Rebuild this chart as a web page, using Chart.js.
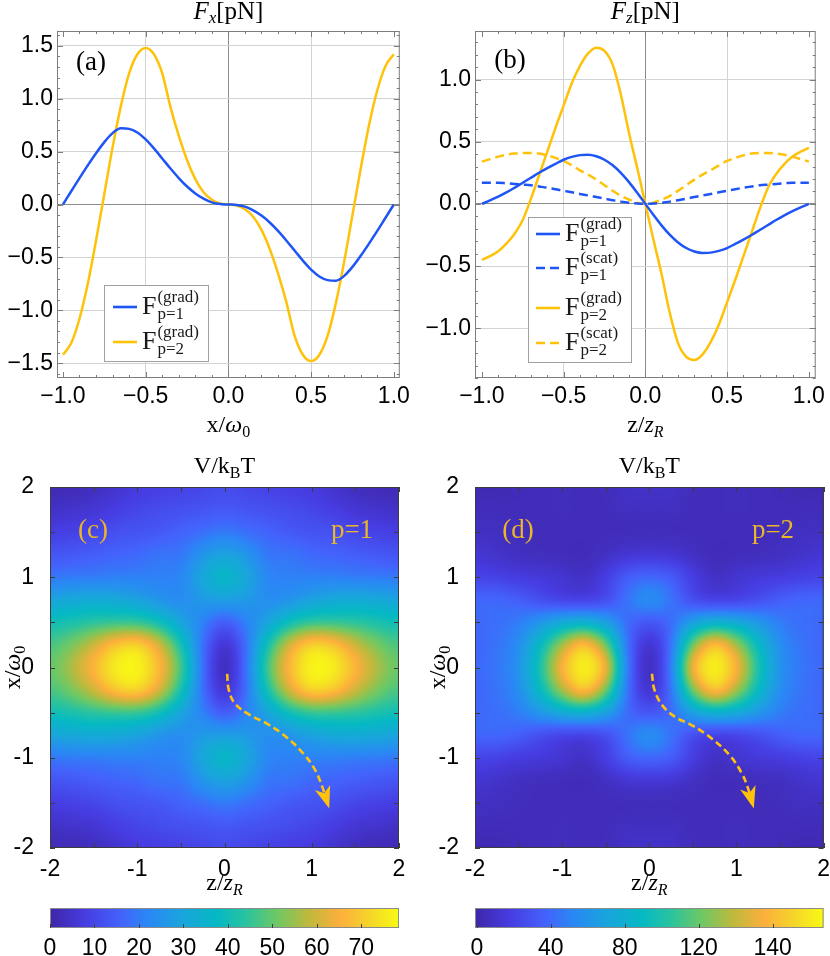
<!DOCTYPE html>
<html>
<head>
<meta charset="utf-8">
<title>Optical forces and trapping potential</title>
<script src="https://cdn.jsdelivr.net/npm/chart.js@4.4.1/dist/chart.umd.min.js"></script>
<style>
  html, body { margin: 0; padding: 0; background: #fff; }
  #fig { position: relative; width: 830px; height: 956px; overflow: hidden; }
  #fig canvas { position: absolute; }
</style>
</head>
<body>
<div id="fig">
  <canvas id="panelA" width="415" height="440" style="left:0;top:0"></canvas>
  <canvas id="panelB" width="415" height="440" style="left:415px;top:0"></canvas>
  <canvas id="panelC" width="415" height="516" style="left:0;top:440px"></canvas>
  <canvas id="panelD" width="415" height="516" style="left:415px;top:440px"></canvas>
</div>
<script>
// sample positions (x/w0 for panel a, z/zR for panel b)
const xPos = [-1,-0.95,-0.9,-0.85,-0.8,-0.75,-0.7,-0.65,-0.6,-0.55,-0.5,-0.45,-0.4,-0.35,-0.3,-0.25,-0.2,-0.15,-0.1,-0.05,0,
  0.05,0.1,0.15,0.2,0.25,0.3,0.35,0.4,0.45,0.5,0.55,0.6,0.65,0.7,0.75,0.8,0.85,0.9,0.95,1];
const zPos = [-1,-0.95,-0.9,-0.85,-0.8,-0.75,-0.7,-0.65,-0.6,-0.55,-0.5,-0.45,-0.4,-0.35,-0.3,-0.25,-0.2,-0.15,-0.1,-0.05,0,
  0.05,0.1,0.15,0.2,0.25,0.3,0.35,0.4,0.45,0.5,0.55,0.6,0.65,0.7,0.75,0.8,0.85,0.9,0.95,1];

// (a) Fx [pN]
const fxGradP1 = [0,0.125,0.25,0.37,0.485,0.59,0.675,0.72,0.715,0.68,0.615,0.53,0.435,0.34,0.25,0.17,0.105,0.055,0.02,0.004,0,
  -0.004,-0.02,-0.055,-0.105,-0.17,-0.25,-0.34,-0.435,-0.53,-0.615,-0.68,-0.715,-0.72,-0.675,-0.59,-0.485,-0.37,-0.25,-0.125,0];
const fxGradP2 = [-1.42,-1.31,-1.08,-0.75,-0.34,0.1,0.54,0.93,1.24,1.42,1.48,1.42,1.24,0.92,0.65,0.42,0.24,0.115,0.045,0.01,0,
  -0.01,-0.045,-0.115,-0.24,-0.42,-0.65,-0.92,-1.24,-1.42,-1.48,-1.42,-1.24,-0.93,-0.54,-0.1,0.34,0.75,1.08,1.31,1.42];

// (b) Fz [pN]
const fzGradP1 = [0,0.028,0.058,0.092,0.13,0.17,0.21,0.25,0.287,0.322,0.355,0.378,0.392,0.395,0.383,0.355,0.31,0.25,0.175,0.09,0,
  -0.09,-0.175,-0.25,-0.31,-0.355,-0.383,-0.395,-0.392,-0.378,-0.355,-0.322,-0.287,-0.25,-0.21,-0.17,-0.13,-0.092,-0.058,-0.028,0];
const fzScatP1 = [0.17,0.17,0.17,0.165,0.16,0.155,0.15,0.14,0.13,0.118,0.105,0.093,0.08,0.068,0.055,0.042,0.03,0.018,0.009,0.003,0,
  0.003,0.009,0.018,0.03,0.042,0.055,0.068,0.08,0.093,0.105,0.118,0.13,0.14,0.15,0.155,0.16,0.165,0.17,0.17,0.17];
const fzGradP2 = [-0.45,-0.42,-0.38,-0.32,-0.24,-0.13,0.04,0.23,0.42,0.61,0.79,0.97,1.11,1.21,1.255,1.23,1.12,0.88,0.57,0.29,0,
  -0.29,-0.57,-0.88,-1.12,-1.23,-1.255,-1.21,-1.11,-0.97,-0.79,-0.61,-0.42,-0.23,-0.04,0.13,0.24,0.32,0.38,0.42,0.45];
const fzScatP2 = [0.34,0.36,0.38,0.395,0.405,0.41,0.41,0.405,0.39,0.37,0.345,0.31,0.27,0.235,0.195,0.15,0.105,0.065,0.035,0.01,0,
  0.01,0.035,0.065,0.105,0.15,0.195,0.235,0.27,0.31,0.345,0.37,0.39,0.405,0.41,0.41,0.405,0.395,0.38,0.36,0.34];

// tick values
const fxTicksX = [-1,-0.5,0,0.5,1];
const fxTicksY = [-1.5,-1,-0.5,0,0.5,1,1.5];
const fzTicksY = [-1,-0.5,0,0.5,1];
const mapTicks = [-2,-1,0,1,2];
const cbTicksP1 = [0,10,20,30,40,50,60,70];
const cbTicksP2 = [0,40,80,120,160];
const cbLabelsP2 = ['0','40','80','120','140'];

// (c),(d) V/kBT, one quadrant (rows: x/w0 = 0..2, cols: z/zR = 0..2), mirrored in z and x
const zHalf = [0,0.25,0.5,0.75,1,1.25,1.5,1.75,2];
const xHalf = [0,0.25,0.5,0.75,1,1.25,1.5,1.75,2];
const potP1 = [
  [1,18,48,68,80,77,67,57,50],
  [4,18,42,62,73,70,60,52,47],
  [14,21,30,40,45,45,44,42,40],
  [28,27,23,25,29,31,32,31,30],
  [38,31,22,21,21,21,20,20,19],
  [30,26,19,19,17,16,15,14,13],
  [20,18,16,14,13,12,10,9,8],
  [14,13,12,11,10,8,6,5,4],
  [11,10,9,8,7,5,3,2,2]
];
const potP2 = [
  [3,45,160,190,160,100,58,45,40],
  [8,42,125,170,135,90,55,44,38],
  [30,40,68,80,75,62,48,42,40],
  [60,45,25,18,20,26,35,40,40],
  [40,35,18,8,12,15,17,20,22],
  [14,12,8,4,5,6,7,10,13],
  [5,5,5,5,5,5,6,7,8],
  [7,7,5,5,6,5,5,5,5],
  [9,9,6,5,6,5,4,3,3]
];

// dashed arrows drawn on the maps
const arrowZ1 = [0.03,0.05,0.12,0.28,0.5,0.72,0.9,1.03,1.12,1.19];
const arrowX1 = [-0.07,-0.25,-0.4,-0.52,-0.63,-0.78,-0.95,-1.12,-1.32,-1.53];
const arrowZ2 = [0.03,0.06,0.15,0.3,0.49,0.72,0.92,1.06,1.14,1.19];
const arrowX2 = [-0.07,-0.25,-0.42,-0.55,-0.64,-0.79,-0.97,-1.17,-1.36,-1.53];

const BLUE = '#1f55f5';
const GOLD = '#ffc20a';
const LABEL_GOLD = '#ebb628';
const SERIF = '"Liberation Serif", "Times New Roman", serif';
const SANS = '"Liberation Sans", Arial, sans-serif';
const tickFont = { family: SANS, size: 23 };

// parula-like colour map
const parula = [
  [0.00, 62, 38, 168], [0.10, 70, 60, 225], [0.20, 68, 97, 252], [0.28, 42, 135, 245],
  [0.38, 25, 165, 220], [0.48, 5, 185, 195], [0.56, 40, 195, 160], [0.65, 110, 200, 100],
  [0.74, 190, 185, 60], [0.83, 252, 175, 60], [0.92, 245, 215, 40], [1.00, 248, 250, 20]
];

function cmap(t) {
  t = Math.max(0, Math.min(1, t));
  for (let i = 1; i < parula.length; i++) {
    if (t <= parula[i][0]) {
      const a = parula[i - 1], b = parula[i], f = (t - a[0]) / (b[0] - a[0]);
      return [1, 2, 3].map(k => Math.round(a[k] + f * (b[k] - a[k])));
    }
  }
  return parula[parula.length - 1].slice(1);
}

const pts = (xs, ys) => xs.map((x, i) => ({ x, y: ys[i] }));
const setTicks = vals => s => { s.ticks = vals.map(v => ({ value: v })); };
const minusFmt = v => (v < 0 ? '\u2212' : '') + Math.abs(v).toFixed(1);

// text with sub/superscript pieces: [text, font, dy]
function rich(ctx, parts, x, y, center) {
  ctx.textAlign = 'left';
  ctx.textBaseline = 'alphabetic';
  let w = 0;
  parts.forEach(([t, f]) => { ctx.font = f; w += ctx.measureText(t).width; });
  let cx = center ? x - w / 2 : x;
  parts.forEach(([t, f, dy]) => { ctx.font = f; ctx.fillText(t, cx, y + (dy || 0)); cx += ctx.measureText(t).width; });
}

// frame with inward tick marks on all four sides
function framePlugin(color, marks) {
  return {
    id: 'frame',
    afterDatasetsDraw(chart) {
      const { ctx, chartArea: a, scales: { x, y } } = chart;
      ctx.save();
      ctx.strokeStyle = color;
      ctx.lineWidth = 1;
      ctx.setLineDash([]);
      ctx.beginPath();
      marks.forEach(([step, len]) => {
        for (let v = Math.ceil(x.min / step - 1e-6) * step; v <= x.max + 1e-6; v += step) {
          const p = Math.round(x.getPixelForValue(v)) + 0.5;
          ctx.moveTo(p, a.bottom); ctx.lineTo(p, a.bottom - len);
          ctx.moveTo(p, a.top); ctx.lineTo(p, a.top + len);
        }
        for (let v = Math.ceil(y.min / step - 1e-6) * step; v <= y.max + 1e-6; v += step) {
          const p = Math.round(y.getPixelForValue(v)) + 0.5;
          ctx.moveTo(a.left, p); ctx.lineTo(a.left + len, p);
          ctx.moveTo(a.right, p); ctx.lineTo(a.right - len, p);
        }
      });
      ctx.stroke();
      ctx.strokeRect(a.left + 0.5, a.top + 0.5, a.width - 1, a.height - 1);
      ctx.restore();
    }
  };
}

function drawLegend(ctx, chart, box, lineX, rows) {
  const [bx, by, bw, bh] = box;
  ctx.fillStyle = '#fff';
  ctx.fillRect(bx, by, bw, bh);
  ctx.strokeStyle = '#a0a0a0';
  ctx.lineWidth = 1;
  ctx.strokeRect(bx + 0.5, by + 0.5, bw, bh);
  chart.data.datasets.forEach((ds, i) => {
    const ly = rows[i];
    ctx.strokeStyle = ds.borderColor;
    ctx.lineWidth = 2.6;
    ctx.setLineDash(ds.borderDash);
    ctx.beginPath(); ctx.moveTo(lineX, ly); ctx.lineTo(lineX + 24, ly); ctx.stroke();
    ctx.setLineDash([]);
    ctx.fillStyle = '#1a1a1a';
    ctx.textAlign = 'left';
    ctx.font = '26px ' + SERIF;
    const fx = lineX + 29;
    ctx.fillText('F', fx, ly + 7);
    const fw = ctx.measureText('F').width + 1;
    ctx.font = '17px ' + SERIF;
    ctx.fillText(ds.sup, fx + fw, ly - 5);
    ctx.fillText(ds.sub, fx + fw, ly + 12);
  });
}

function forceChart(id, xs, sets, o) {
  const gridColor = c => c.tick.value === 0 ? '#8c8c8c' : '#d3d3d3';
  return new Chart(document.getElementById(id), {
    type: 'line',
    data: {
      datasets: sets.map(s => ({
        label: s.label, data: pts(xs, s.y), borderColor: s.color, borderWidth: 2.5,
        borderDash: s.dash || [], pointRadius: 0, cubicInterpolationMode: 'monotone', fill: false,
        sup: s.sup, sub: s.sub
      }))
    },
    options: {
      responsive: false, animation: false, events: [],
      layout: { padding: { left: 0, right: o.padR, top: 31, bottom: 0 } },
      plugins: { legend: { display: false }, tooltip: { enabled: false } },
      scales: {
        x: {
          type: 'linear', min: o.xMin, max: o.xMax,
          afterBuildTicks: setTicks(fxTicksX), afterFit: s => { s.height = 62; },
          ticks: { font: tickFont, color: '#000', padding: 5, autoSkip: false, maxRotation: 0, callback: minusFmt },
          grid: { drawTicks: false, lineWidth: 1, color: c => Math.abs(c.tick.value) === 1 ? 'rgba(0,0,0,0)' : gridColor(c) },
          border: { display: false }
        },
        y: {
          min: o.yMin, max: o.yMax,
          afterBuildTicks: setTicks(o.yTicks), afterFit: s => { s.width = o.yW; },
          ticks: { font: tickFont, color: '#000', padding: 4, autoSkip: false, callback: minusFmt },
          grid: { drawTicks: false, lineWidth: 1, color: gridColor },
          border: { display: false }
        }
      }
    },
    plugins: [framePlugin('#7d7d7d', [[0.1, 3], [0.5, 6]]), { id: 'deco', afterDraw: o.deco }]
  });
}

// grey-level image of the quadrant grid, mirrored to the full -2..2 square
function grayGrid(grid, vMin, vMax) {
  const n = zHalf.length, N = 2 * n - 1;
  const c = document.createElement('canvas');
  c.width = N; c.height = N;
  const g = c.getContext('2d');
  const im = g.createImageData(N, N);
  for (let r = 0; r < N; r++) {          // r = 0 -> top (x/w0 = +2)
    const xi = Math.abs(n - 1 - r);
    for (let k = 0; k < N; k++) {        // k = 0 -> left (z/zR = -2)
      const zi = Math.abs(k - (n - 1));
      const t = Math.max(0, Math.min(1, (grid[xi][zi] - vMin) / (vMax - vMin)));
      const p = 4 * (r * N + k);
      im.data[p] = im.data[p + 1] = im.data[p + 2] = Math.round(255 * t);
      im.data[p + 3] = 255;
    }
  }
  g.putImageData(im, 0, 0);
  return c;
}

// smooth the grey image on the chart's own scales, then colour it
function renderHeat(grid, vMin, vMax, chart) {
  const { chartArea: a, scales: { x, y } } = chart;
  const small = grayGrid(grid, vMin, vMax);
  const pad = 24, W = Math.round(a.width), H = Math.round(a.height);
  const big = document.createElement('canvas');
  big.width = W + 2 * pad; big.height = H + 2 * pad;
  const g = big.getContext('2d');
  g.imageSmoothingEnabled = true;
  g.imageSmoothingQuality = 'high';
  const hz = (zHalf[1] - zHalf[0]) / 2, hx = (xHalf[1] - xHalf[0]) / 2;
  const zl = zHalf[zHalf.length - 1] + hz, xl = xHalf[xHalf.length - 1] + hx;
  const x0 = x.getPixelForValue(-zl) - a.left + pad, x1 = x.getPixelForValue(zl) - a.left + pad;
  const y0 = y.getPixelForValue(xl) - a.top + pad, y1 = y.getPixelForValue(-xl) - a.top + pad;
  g.drawImage(small, 0, 0, big.width, big.height);
  g.drawImage(small, x0, y0, x1 - x0, y1 - y0);
  const out = document.createElement('canvas');
  out.width = W; out.height = H;
  const o = out.getContext('2d');
  o.filter = 'blur(3px)';
  o.drawImage(big, -pad, -pad);
  o.filter = 'none';
  const im = o.getImageData(0, 0, W, H);
  const lut = [];
  for (let i = 0; i < 256; i++) lut.push(cmap(i / 255));
  for (let p = 0; p < im.data.length; p += 4) {
    const c = lut[im.data[p]];
    im.data[p] = c[0]; im.data[p + 1] = c[1]; im.data[p + 2] = c[2]; im.data[p + 3] = 255;
  }
  o.putImageData(im, 0, 0);
  return out;
}

function heatPlugin(grid, vMin, vMax) {
  let img = null;
  return {
    id: 'heat',
    beforeDatasetsDraw(chart) {
      const { ctx, chartArea: a } = chart;
      if (!img) img = renderHeat(grid, vMin, vMax, chart);
      ctx.drawImage(img, a.left, a.top, a.width, a.height);
    }
  };
}

const arrowHead = {
  id: 'arrowHead',
  afterDatasetsDraw(chart) {
    const el = chart.getDatasetMeta(0).data;
    const tip = el[el.length - 1], prev = el[el.length - 2];
    const ang = Math.atan2(tip.y - prev.y, tip.x - prev.x);
    const { ctx } = chart;
    ctx.save();
    ctx.translate(tip.x, tip.y);
    ctx.rotate(ang);
    ctx.fillStyle = GOLD;
    ctx.beginPath();
    ctx.moveTo(3, 0); ctx.lineTo(-19, -8); ctx.lineTo(-13, 0); ctx.lineTo(-19, 8);
    ctx.closePath(); ctx.fill();
    ctx.restore();
  }
};

const colorbar = {
  id: 'colorbar',
  afterDraw(chart) {
    const { ctx } = chart, s = chart.scales.cb;
    const top = s.top + 8, h = 20;
    const g = ctx.createLinearGradient(s.left, 0, s.right, 0);
    parula.forEach(p => g.addColorStop(p[0], `rgb(${p[1]},${p[2]},${p[3]})`));
    ctx.save();
    ctx.fillStyle = g;
    ctx.fillRect(s.left, top, s.right - s.left, h);
    ctx.strokeStyle = '#8a8a8a';
    ctx.lineWidth = 1;
    ctx.strokeRect(s.left + 0.5, top + 0.5, s.right - s.left - 1, h - 1);
    ctx.strokeStyle = '#404040';
    ctx.beginPath();
    s.ticks.forEach(t => {
      const p = Math.round(s.getPixelForValue(t.value)) + 0.5;
      ctx.moveTo(p, top + h); ctx.lineTo(p, top + h - 4);
    });
    ctx.stroke();
    ctx.restore();
  }
};

function potentialChart(id, grid, o) {
  return new Chart(document.getElementById(id), {
    type: 'scatter',
    data: {
      datasets: [{
        label: 'path', data: pts(o.arrowZ, o.arrowX), showLine: true, borderColor: GOLD,
        borderWidth: 2.6, borderDash: [7, 4], pointRadius: 0, tension: 0.4
      }]
    },
    options: {
      responsive: false, animation: false, events: [],
      layout: { padding: { left: 0, right: o.padR, top: 47, bottom: 0 } },
      plugins: { legend: { display: false }, tooltip: { enabled: false } },
      scales: {
        x: {
          type: 'linear', min: -2, max: 2, weight: 0,
          afterBuildTicks: setTicks(mapTicks), afterFit: s => { s.height = 52; },
          ticks: { font: tickFont, color: '#000', padding: 0, autoSkip: false, maxRotation: 0, callback: v => String(v) },
          grid: { display: false }, border: { display: false }
        },
        cb: {
          type: 'linear', axis: 'x', position: 'bottom', weight: 1, min: o.vMin, max: o.vMax,
          afterBuildTicks: setTicks(o.cbTicks), afterFit: s => { s.height = 56; },
          ticks: { font: tickFont, color: '#000', padding: 27, autoSkip: false, maxRotation: 0, callback: (v, i) => o.cbLabels[i] },
          grid: { display: false }, border: { display: false }
        },
        y: {
          min: -2, max: 2,
          afterBuildTicks: setTicks(mapTicks), afterFit: s => { s.width = o.yW; },
          ticks: { font: tickFont, color: '#000', padding: 8, autoSkip: false, callback: v => String(v) },
          grid: { display: false }, border: { display: false }
        }
      }
    },
    plugins: [heatPlugin(grid, o.vMin, o.vMax), framePlugin('#3c3c3c', [[0.5, 5]]), arrowHead, colorbar, {
      id: 'deco',
      afterDraw(chart) {
        const { ctx, chartArea: a } = chart;
        const cx = (a.left + a.right) / 2, cy = (a.top + a.bottom) / 2;
        ctx.save();
        ctx.fillStyle = '#000';
        rich(ctx, [['V/k', '24px ' + SERIF], ['B', '16px ' + SERIF, 5], ['T', '24px ' + SERIF]], cx, 33, true);
        rich(ctx, [['z/', '24px ' + SERIF], ['z', 'italic 24px ' + SERIF], ['R', 'italic 16px ' + SERIF, 5]], cx, 450, true);
        ctx.save();
        ctx.translate(o.yTitleX, cy);
        ctx.rotate(-Math.PI / 2);
        rich(ctx, [['x/', '24px ' + SERIF], ['\u03c9', 'italic 24px ' + SERIF], ['0', '16px ' + SERIF, 5]], 0, 7, true);
        ctx.restore();
        ctx.fillStyle = LABEL_GOLD;
        ctx.font = '27px ' + SERIF;
        ctx.textAlign = 'center';
        ctx.fillText(o.tag, o.tagX, 98);
        ctx.fillText(o.pLabel, o.pX, 98);
        ctx.restore();
      }
    }]
  });
}

// (a)
forceChart('panelA', xPos, [
  { label: 'F(grad) p=1', y: fxGradP1, color: BLUE, sup: '(grad)', sub: 'p=1' },
  { label: 'F(grad) p=2', y: fxGradP2, color: GOLD, sup: '(grad)', sub: 'p=2' }
], {
  xMin: -1.036, xMax: 1.036, yMin: -1.64, yMax: 1.64, yTicks: fxTicksY, yW: 57, padR: 11,
  deco(chart) {
    const { ctx, chartArea: a } = chart;
    const cx = (a.left + a.right) / 2;
    ctx.save();
    ctx.fillStyle = '#000';
    rich(ctx, [['F', 'italic 25px ' + SERIF], ['x', 'italic 17px ' + SERIF, 4], ['[pN]', '25px ' + SERIF]], cx, 19, true);
    rich(ctx, [['x/', '24px ' + SERIF], ['\u03c9', 'italic 24px ' + SERIF], ['0', '16px ' + SERIF, 5]], cx, 432, true);
    ctx.font = '27px ' + SERIF;
    ctx.textAlign = 'center';
    ctx.fillText('(a)', 91, 70);
    drawLegend(ctx, chart, [104, 285, 104, 76], 113, [307, 342]);
    ctx.restore();
  }
});

// (b)
forceChart('panelB', zPos, [
  { label: 'F(grad) p=1', y: fzGradP1, color: BLUE, sup: '(grad)', sub: 'p=1' },
  { label: 'F(scat) p=1', y: fzScatP1, color: BLUE, dash: [9, 5], sup: '(scat)', sub: 'p=1' },
  { label: 'F(grad) p=2', y: fzGradP2, color: GOLD, sup: '(grad)', sub: 'p=2' },
  { label: 'F(scat) p=2', y: fzScatP2, color: GOLD, dash: [9, 5], sup: '(scat)', sub: 'p=2' }
], {
  xMin: -1.042, xMax: 1.042, yMin: -1.4, yMax: 1.39, yTicks: fzTicksY, yW: 60, padR: 8,
  deco(chart) {
    const { ctx, chartArea: a } = chart;
    const cx = (a.left + a.right) / 2;
    ctx.save();
    ctx.fillStyle = '#000';
    rich(ctx, [['F', 'italic 25px ' + SERIF], ['z', 'italic 17px ' + SERIF, 4], ['[pN]', '25px ' + SERIF]], cx, 19, true);
    rich(ctx, [['z/', '24px ' + SERIF], ['z', 'italic 24px ' + SERIF], ['R', 'italic 16px ' + SERIF, 5]], cx, 432, true);
    ctx.font = '27px ' + SERIF;
    ctx.textAlign = 'center';
    ctx.fillText('(b)', 95, 68);
    drawLegend(ctx, chart, [113, 217, 103, 145], 121, [234, 268, 308, 343]);
    ctx.restore();
  }
});

// (c)
potentialChart('panelC', potP1, {
  vMin: 0, vMax: 78.5, cbTicks: cbTicksP1, cbLabels: cbTicksP1.map(String),
  arrowZ: arrowZ1, arrowX: arrowX1, yW: 50, padR: 16, yTitleX: 13,
  tag: '(c)', tagX: 93, pLabel: 'p=1', pX: 352
});

// (d)
potentialChart('panelD', potP2, {
  vMin: -1, vMax: 187.6, cbTicks: cbTicksP2, cbLabels: cbLabelsP2,
  arrowZ: arrowZ2, arrowX: arrowX2, yW: 60, padR: 6, yTitleX: 23,
  tag: '(d)', tagX: 103, pLabel: 'p=2', pX: 358
});
</script>
</body>
</html>
